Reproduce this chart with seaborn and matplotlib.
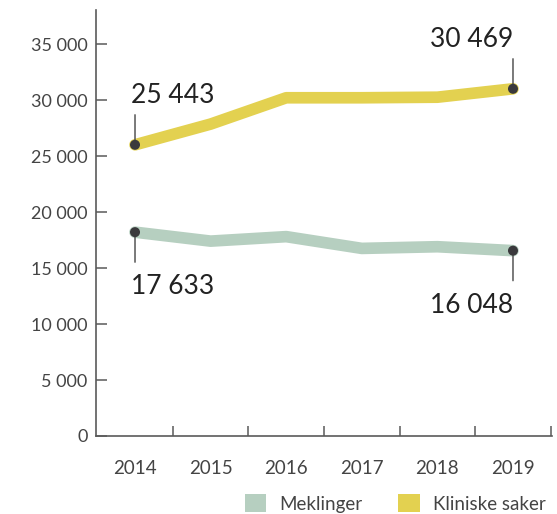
import pandas as pd
import matplotlib.pyplot as plt
import seaborn as sns
from matplotlib.patches import Patch

# data lest av figuren
years = [2014, 2015, 2016, 2017, 2018, 2019]
meklinger = [18200, 17400, 17800, 16750, 16900, 16550]
kliniske = [26000, 27850, 30200, 30200, 30250, 31000]
# tallene som står skrevet ved første og siste år
meklinger_labels = ['17 633', '16 048']
kliniske_labels = ['25 443', '30 469']

series_names = ['Meklinger', 'Kliniske saker']
colors = {'Meklinger': '#b6cfc0', 'Kliniske saker': '#e3d150'}
dot_color = '#3a393c'
axis_color = '#5a5a5a'

sns.set_style('white')
plt.rcParams['font.family'] = ['Lato', 'DejaVu Sans']

df = pd.DataFrame({
    'year': years * 2,
    'value': meklinger + kliniske,
    'series': [series_names[0]] * len(years) + [series_names[1]] * len(years),
})

fig = plt.figure(figsize=(5.57, 5.14), dpi=100)
ax = fig.add_axes([96 / 557, 78 / 514, 456 / 557, 426 / 514])

sns.lineplot(data=df, x='year', y='value', hue='series', hue_order=series_names,
             palette=colors, linewidth=8.4, legend=False, sort=False, ax=ax,
             solid_capstyle='round', solid_joinstyle='round')

# punkter og etiketter ved endene
ends = pd.DataFrame({
    'year': [years[0], years[-1], years[0], years[-1]],
    'value': [meklinger[0], meklinger[-1], kliniske[0], kliniske[-1]],
    'label': meklinger_labels + kliniske_labels,
    'side': [-1, -1, 1, 1],
})
sns.scatterplot(data=ends, x='year', y='value', color=dot_color, s=52,
                edgecolor='none', zorder=5, ax=ax)

for _, r in ends.iterrows():
    first = r['year'] == years[0]
    ax.annotate('', xy=(r['year'], r['value']), xytext=(0, 30 * r['side']),
                textcoords='offset pixels',
                arrowprops=dict(arrowstyle='-', color='#555555', lw=1.1,
                                shrinkA=0, shrinkB=0))
    ax.annotate(r['label'], xy=(r['year'], r['value']),
                xytext=(-4 if first else 0, 42 * r['side']),
                textcoords='offset pixels',
                ha='left' if first else 'right',
                va='baseline' if r['side'] > 0 else 'top',
                fontsize=19, color='#222222')

# akser
ax.set_xlim(years[0] - 0.516, years[-1] + 0.516)
ax.set_ylim(0, 38036)
ax.set_yticks(range(0, 35001, 5000))
ax.set_yticklabels([f'{v:,}'.replace(',', ' ') for v in range(0, 35001, 5000)])
ax.set_xticks(years)
ax.set_xticks([y + 0.5 for y in years], minor=True)
ax.set_xlabel('')
ax.set_ylabel('')

sns.despine(ax=ax)
for s in ['left', 'bottom']:
    ax.spines[s].set_color(axis_color)
    ax.spines[s].set_linewidth(1.2)

ax.tick_params(axis='y', direction='in', length=8, width=1.1, color=axis_color,
               pad=6, labelsize=13, labelcolor='#444444', left=True)
ax.tick_params(axis='x', which='major', length=0, pad=17.5, labelsize=13.5,
               labelcolor='#444444')
ax.tick_params(axis='x', which='minor', direction='in', length=7.5, width=1.1,
               color=axis_color, bottom=True)

handles = [Patch(facecolor=colors[n], edgecolor='none', label=n) for n in series_names]
fig.legend(handles=handles, loc='lower right', bbox_to_anchor=(1.01, -0.03),
           ncol=2, frameon=False, fontsize=13.5, handlelength=1.15, handleheight=1.15,
           handletextpad=0.7, columnspacing=1.9, labelcolor='#444444')

fig.savefig('out.png', dpi=100)
